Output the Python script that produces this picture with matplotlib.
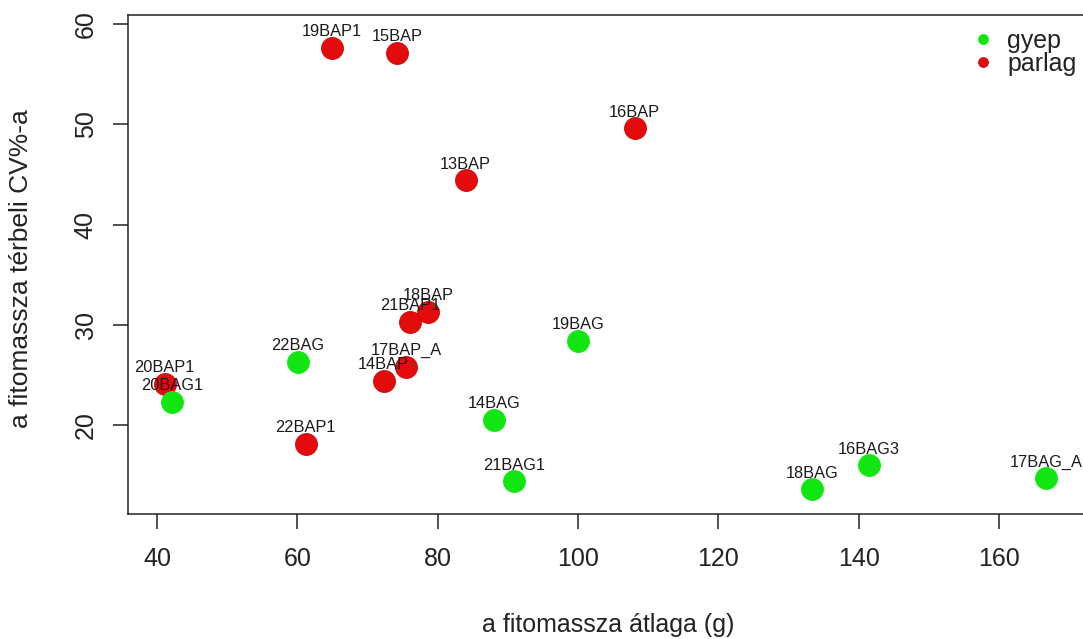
import matplotlib
matplotlib.use("Agg")
import matplotlib.pyplot as plt

plt.rcParams['font.family'] = ['Liberation Sans', 'DejaVu Sans']

# gyep (grassland) sites
names_gyep = ['20BAG1', '22BAG', '14BAG', '21BAG1', '19BAG', '18BAG', '16BAG3', '17BAG_A']
x_gyep = [42.1, 60.1, 88.1, 90.9, 100.0, 133.4, 141.5, 166.7]
y_gyep = [22.3, 26.3, 20.5, 14.4, 28.4, 13.6, 16.0, 14.7]

# parlag (fallow) sites
names_parlag = ['20BAP1', '22BAP1', '19BAP1', '14BAP', '15BAP', '17BAP_A', '21BAP1', '18BAP', '13BAP', '16BAP']
x_parlag = [41.1, 61.2, 64.9, 72.3, 74.2, 75.5, 76.1, 78.7, 84.0, 108.1]
y_parlag = [24.1, 18.1, 57.6, 24.4, 57.1, 25.8, 30.3, 31.3, 44.4, 49.6]

xticks = [40, 60, 80, 100, 120, 140, 160]
yticks = [20, 30, 40, 50, 60]

green = '#12E612'
red = '#E30B0B'

W, H = 1083, 639
fig = plt.figure(figsize=(W / 100, H / 100), dpi=100)
# plot region extends slightly past the right edge, like the cropped original
ax = fig.add_axes([128 / W, 1 - 514.3 / H, (1088 - 128) / W, (514.3 - 15) / H])

p_red, = ax.plot(x_parlag, y_parlag, 'o', ms=15.8, color=red, mec='#c80a0a', mew=0.6,
                 label='parlag', zorder=2)
p_green, = ax.plot(x_gyep, y_gyep, 'o', ms=15.8, color=green, mec=green, mew=0.6,
                   label='gyep', zorder=3)

for n, x, y in zip(names_gyep + names_parlag, x_gyep + x_parlag, y_gyep + y_parlag):
    ax.annotate(n, (x, y), xytext=(0, 8.4), textcoords='offset points',
                ha='center', va='baseline', fontsize=11.8, color='#1a1a1a', zorder=5)

ax.set_xlim(35.87, 172.7)
ax.set_ylim(11.1, 60.9)
ax.set_xticks(xticks)
ax.set_yticks(yticks)
ax.tick_params(axis='both', length=10.8, width=1.1, labelsize=18, color='#222222',
               labelcolor='#222222')
ax.tick_params(axis='x', pad=13.0)
ax.tick_params(axis='y', pad=11.0, labelrotation=90)
for lab in ax.get_yticklabels():
    lab.set_va('center')
for s in ax.spines.values():
    s.set_linewidth(1.1)
    s.set_color('#222222')

ax.set_xlabel('a fitomassza átlaga (g)', fontsize=18, color='#222222')
ax.xaxis.set_label_coords(0.5, -0.198)
ax.set_ylabel('a fitomassza térbeli CV%-a', fontsize=19, color='#222222')
ax.yaxis.set_label_coords(-0.099, 0.493)

leg = ax.legend(handles=[p_green, p_red], loc='upper left', bbox_to_anchor=(0.8776, 0.972),
                frameon=False, fontsize=18, markerscale=0.45, handlelength=1.0,
                handletextpad=0.46, borderpad=0, borderaxespad=0, labelspacing=-0.03)
for t in leg.get_texts():
    t.set_color('#222222')

fig.savefig('out.png', dpi=100, facecolor='white')
